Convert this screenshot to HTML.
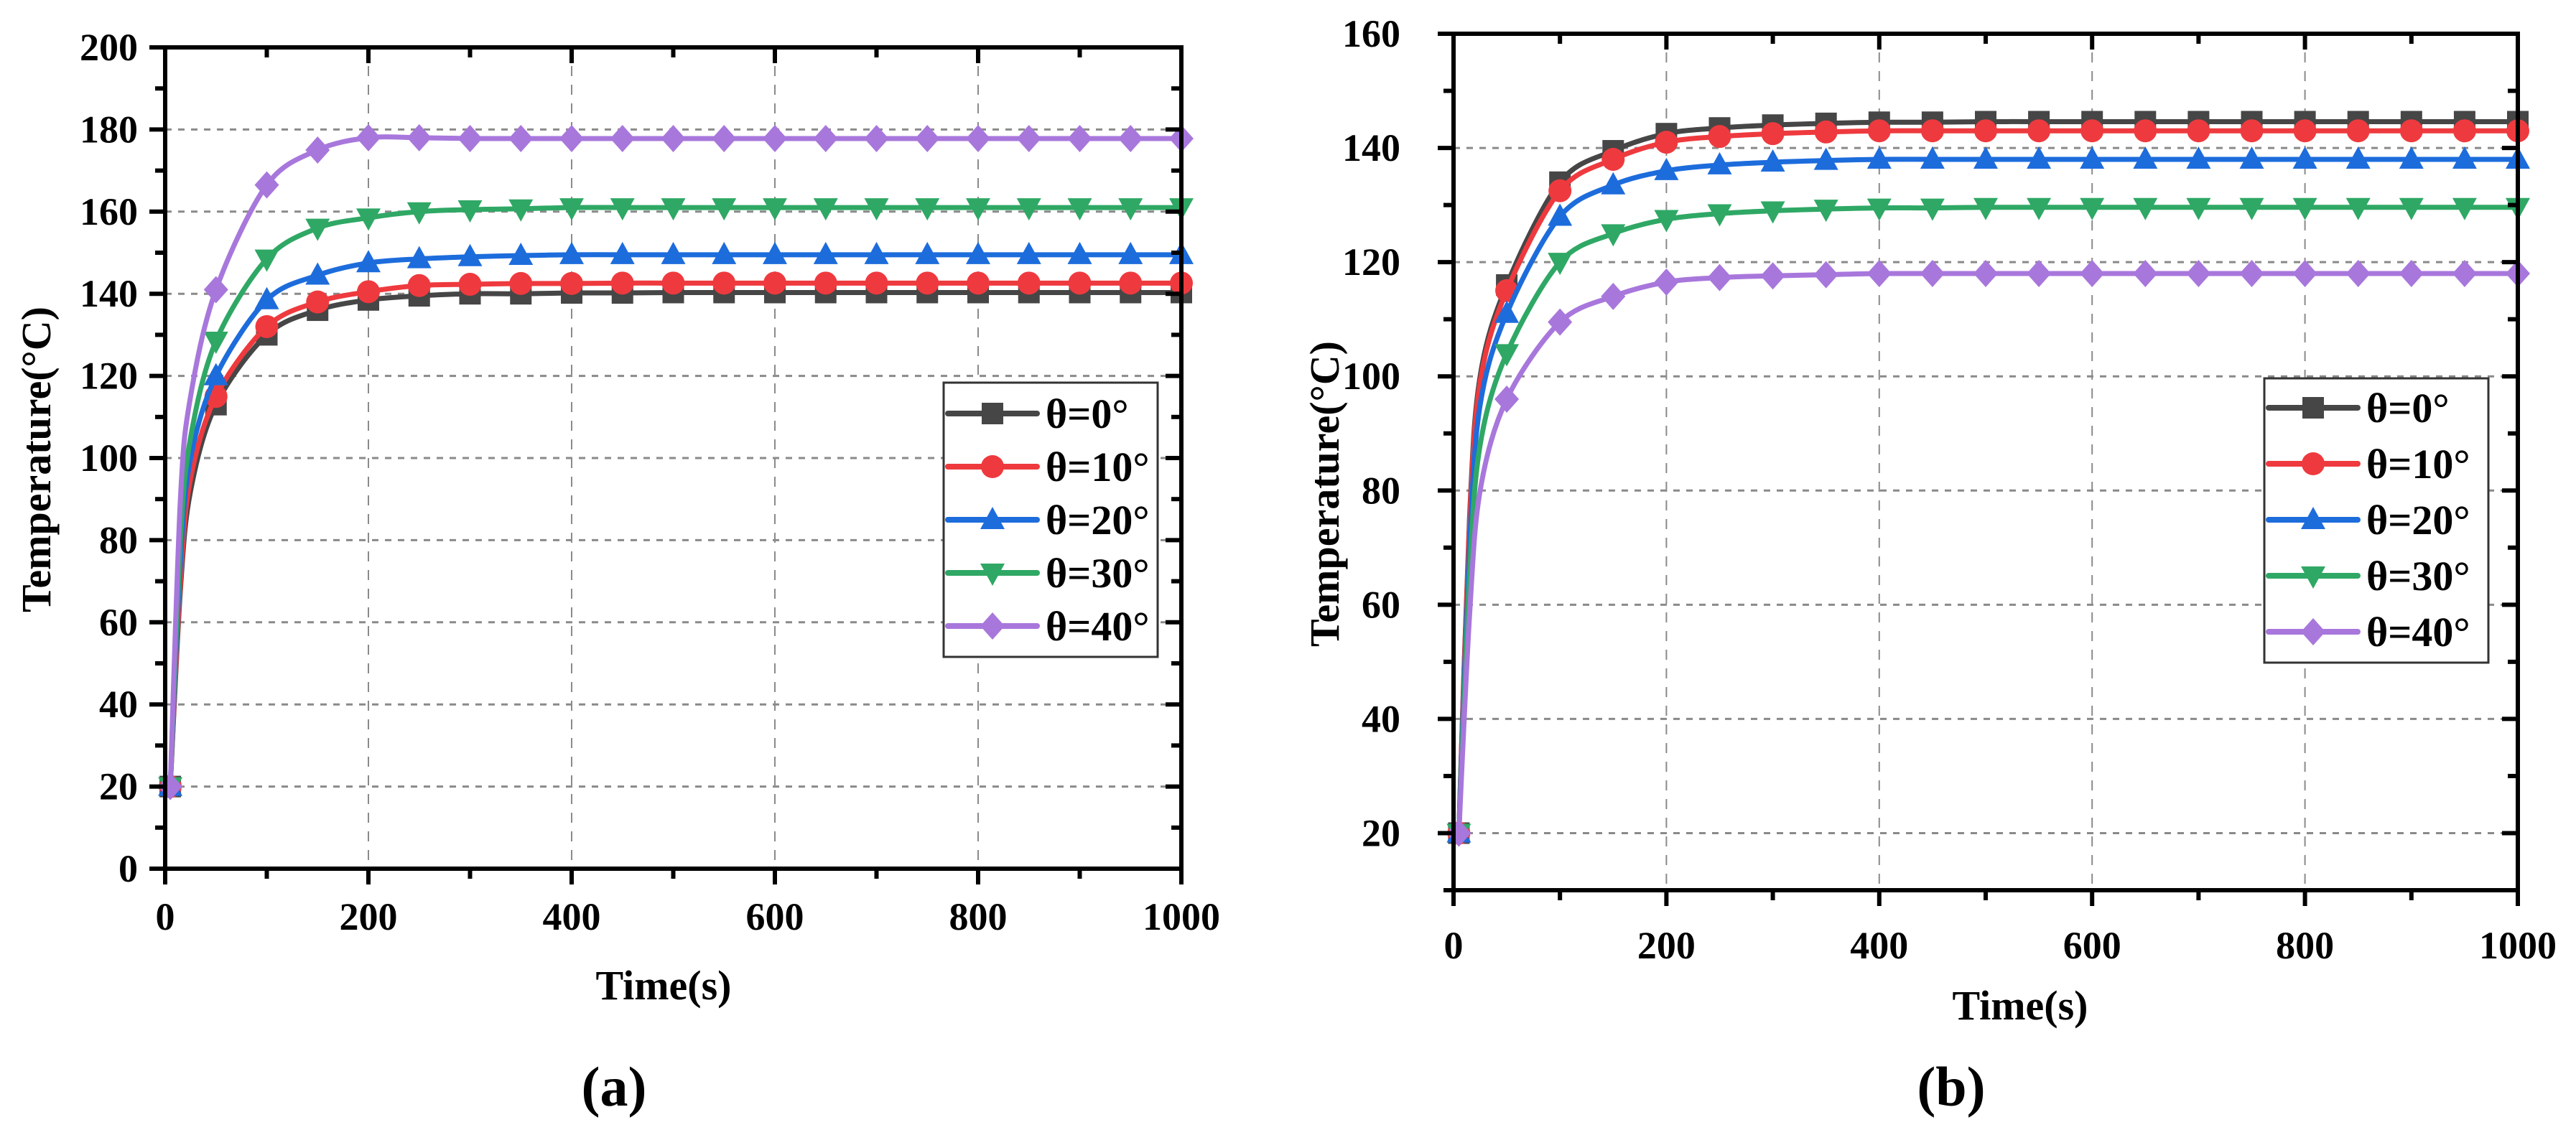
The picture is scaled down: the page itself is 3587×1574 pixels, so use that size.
<!DOCTYPE html>
<html><head><meta charset="utf-8"><style>
body{margin:0;background:#fff}
svg{display:block}
text{font-family:"Liberation Serif",serif;font-weight:bold;fill:#000}
</style></head><body>
<svg id="fig" width="3587" height="1574" viewBox="0 0 3587 1574" xmlns="http://www.w3.org/2000/svg"></svg>
<script>
// ---- data ----
const times = [5, 15, 25, 50, 100, 150, 200, 250, 300, 350, 400, 450, 500, 550, 600, 650, 700, 750, 800, 850, 900, 950, 1000];
const seriesNames = ["θ=0°", "θ=10°", "θ=20°", "θ=30°", "θ=40°"];
const aTheta0  = [20, 68, 92, 113, 130, 136, 138.5, 139.5, 140, 140, 140.2, 140.2, 140.3, 140.3, 140.3, 140.3, 140.3, 140.3, 140.3, 140.3, 140.3, 140.3, 140.3];
const aTheta10 = [20, 70, 95, 115, 132, 138, 140.5, 142, 142.3, 142.5, 142.5, 142.6, 142.6, 142.6, 142.6, 142.6, 142.6, 142.6, 142.6, 142.6, 142.6, 142.6, 142.6];
const aTheta20 = [20, 75, 100, 120, 138.5, 144.5, 147.5, 148.5, 149, 149.3, 149.5, 149.5, 149.5, 149.5, 149.5, 149.5, 149.5, 149.5, 149.5, 149.5, 149.5, 149.5, 149.5];
const aTheta30 = [20, 80, 105, 128.5, 148.5, 156, 158.5, 160, 160.5, 160.7, 161, 161, 161, 161, 161, 161, 161, 161, 161, 161, 161, 161, 161];
const aTheta40 = [20, 90, 115, 141, 166.5, 175, 178, 178, 177.8, 177.8, 177.8, 177.8, 177.8, 177.8, 177.8, 177.8, 177.8, 177.8, 177.8, 177.8, 177.8, 177.8, 177.8];
const bTheta0  = [20, 75, 100, 116, 134, 139.5, 142.5, 143.5, 144, 144.3, 144.5, 144.5, 144.6, 144.6, 144.6, 144.6, 144.6, 144.6, 144.6, 144.6, 144.6, 144.6, 144.6];
const bTheta10 = [20, 74, 99, 115, 132.5, 138, 141, 142, 142.5, 142.8, 143, 143, 143, 143, 143, 143, 143, 143, 143, 143, 143, 143, 143];
const bTheta20 = [20, 70, 95, 111, 128, 133.5, 136, 137, 137.5, 137.8, 138, 138, 138, 138, 138, 138, 138, 138, 138, 138, 138, 138, 138];
const bTheta30 = [20, 65, 88, 104, 120, 125, 127.5, 128.5, 129, 129.3, 129.5, 129.5, 129.6, 129.6, 129.6, 129.6, 129.6, 129.6, 129.6, 129.6, 129.6, 129.6, 129.6];
const bTheta40 = [20, 58, 80, 96, 109.5, 114, 116.5, 117.3, 117.6, 117.8, 118, 118, 118, 118, 118, 118, 118, 118, 118, 118, 118, 118, 118];
const xTicks = [0, 200, 400, 600, 800, 1000];
const aYTicks = [0, 20, 40, 60, 80, 100, 120, 140, 160, 180, 200];
const bYTicks = [20, 40, 60, 80, 100, 120, 140, 160];

const colors = ["#464646", "#ee3a3e", "#1d6cdc", "#2fa865", "#a877dc"];
const shapes = ["square", "circle", "up", "down", "diamond"];
const NS = "http://www.w3.org/2000/svg";
const svg = document.getElementById("fig");
function mk(tag, attrs, parent) {
  const e = document.createElementNS(NS, tag);
  for (const k in attrs) e.setAttribute(k, attrs[k]);
  (parent || svg).appendChild(e);
  return e;
}
function marker(g, shape, cx, cy, color) {
  const r = 15;
  let e;
  if (shape === "square") e = mk("rect", {x: cx - r, y: cy - r, width: 2 * r, height: 2 * r, fill: color}, g);
  else if (shape === "circle") e = mk("circle", {cx: cx, cy: cy, r: r + 1, fill: color}, g);
  else if (shape === "up") e = mk("polygon", {points: `${cx},${cy - r - 3} ${cx - r - 2},${cy + r - 2} ${cx + r + 2},${cy + r - 2}`, fill: color}, g);
  else if (shape === "down") e = mk("polygon", {points: `${cx},${cy + r + 3} ${cx - r - 2},${cy - r + 2} ${cx + r + 2},${cy - r + 2}`, fill: color}, g);
  else e = mk("polygon", {points: `${cx},${cy - r - 4} ${cx + r + 2},${cy} ${cx},${cy + r + 4} ${cx - r - 2},${cy}`, fill: color}, g);
  
  
  return e;
}
function smoothPath(pts) {
  let d = `M${pts[0][0]},${pts[0][1]}`;
  for (let i = 0; i < pts.length - 1; i++) {
    const p0 = pts[Math.max(0, i - 1)], p1 = pts[i], p2 = pts[i + 1], p3 = pts[Math.min(pts.length - 1, i + 2)];
    const t = 0.16;
    const c1 = [p1[0] + (p2[0] - p0[0]) * t, p1[1] + (p2[1] - p0[1]) * t];
    const c2 = [p2[0] - (p3[0] - p1[0]) * t, p2[1] - (p3[1] - p1[1]) * t];
    d += ` C${c1[0]},${c1[1]} ${c2[0]},${c2[1]} ${p2[0]},${p2[1]}`;
  }
  return d;
}

function chart(cfg) {
  const g = mk("g", {});
  
  
  const X = v => cfg.x0 + (v - 0) / 1000 * (cfg.x1 - cfg.x0);
  const Y = v => cfg.yb - (v - cfg.ymin) / (cfg.ymax - cfg.ymin) * (cfg.yb - cfg.yt);
  const L = cfg.x0, R = cfg.x1, T = cfg.yt, B = cfg.yb;
  const grid = mk("g", {stroke: "#8a8a8a", "stroke-width": 3}, g);
  
  
  xTicks.forEach(v => { if (v > 0 && v < 1000) mk("line", {x1: X(v), x2: X(v), y1: T, y2: B, "stroke-dasharray": "14,12", "stroke-width": 2}, grid); });
  cfg.yTicks.forEach(v => { if (Y(v) > T + 2 && Y(v) < B - 2) mk("line", {x1: L, x2: R, y1: Y(v), y2: Y(v), "stroke-dasharray": "9,9"}, grid); });
  cfg.series.forEach((vals, si) => {
    const sg = mk("g", {}, g);
    
    
    const pts = times.map((t, i) => [X(t), Y(vals[i])]);
    const p = mk("path", {d: smoothPath(pts), fill: "none", stroke: colors[si], "stroke-width": 7, "stroke-linejoin": "round"}, sg);
    
    
    times.forEach((t, i) => { if (t !== 15 && t !== 25) marker(sg, shapes[si], X(t), Y(vals[i]), colors[si]); });
  });
  const ax = mk("g", {stroke: "#000", "stroke-width": 6, fill: "none"}, g);
  
  
  mk("rect", {x: L, y: T, width: R - L, height: B - T}, ax);
  for (let v = 0; v <= 1000; v += 100) {
    const len = v % 200 === 0 ? 22 : 14;
    mk("line", {x1: X(v), x2: X(v), y1: B, y2: B + len}, ax);
    mk("line", {x1: X(v), x2: X(v), y1: T, y2: T + len}, ax);
  }
  for (let v = cfg.ymin; v <= cfg.ymax; v += 10) {
    const len = cfg.yTicks.includes(v) ? 22 : 14;
    mk("line", {x1: L, x2: L - len, y1: Y(v), y2: Y(v)}, ax);
    mk("line", {x1: R, x2: R - len, y1: Y(v), y2: Y(v)}, ax);
  }
  xTicks.forEach(v => {
    const t = mk("text", {x: X(v), y: cfg.xLabY, "font-size": 54, "text-anchor": "middle"}, g);
    t.textContent = v;
    
    
  });
  cfg.yTicks.forEach(v => {
    const t = mk("text", {x: cfg.yLabX, y: Y(v) + 18, "font-size": 54, "text-anchor": "end"}, g);
    t.textContent = v;
    
    
  });
  const xt = mk("text", {x: cfg.xTitle[0], y: cfg.xTitle[1], "font-size": 58, "text-anchor": "middle"}, g);
  xt.textContent = "Time(s)";
  
  
  const yt = mk("text", {x: 0, y: 0, "font-size": 58, "text-anchor": "middle", transform: `translate(${cfg.yTitle[0]},${cfg.yTitle[1]}) rotate(-90)`}, g);
  yt.textContent = "Temperature(°C)";
  
  
  const cap = mk("text", {x: cfg.cap[0], y: cfg.cap[1], "font-size": 78, "text-anchor": "middle", "font-weight": "normal"}, g);
  cap.textContent = cfg.capText;
  
  
  const lg = mk("g", {}, g);
  
  
  const lb = cfg.legend;
  mk("rect", {x: lb.x, y: lb.y, width: lb.w, height: lb.h, fill: "#fff", stroke: "#333", "stroke-width": 3}, lg);
  seriesNames.forEach((n, i) => {
    const cy = lb.y + lb.first + i * lb.step;
    const eg = mk("g", {}, lg);
    
    
    mk("line", {x1: lb.x + 6, x2: lb.x + 130, y1: cy, y2: cy, stroke: colors[i], "stroke-width": 8, "stroke-linecap": "round"}, eg);
    marker(eg, shapes[i], lb.x + 68, cy, colors[i]);
    const t = mk("text", {x: lb.x + 142, y: cy + 20, "font-size": 58}, eg);
    t.textContent = n;
  });
}

chart({name: "chart-a", x0: 230, x1: 1645, yt: 66, yb: 1210, ymin: 0, ymax: 200, yTicks: aYTicks,
  series: [aTheta0, aTheta10, aTheta20, aTheta30, aTheta40],
  xLabY: 1295, yLabX: 192, xTitle: [924, 1392], yTitle: [70, 640], cap: [855, 1540], capText: "(a)",
  legend: {x: 1314, y: 533, w: 298, h: 382, first: 43, step: 74}});
chart({name: "chart-b", x0: 2024, x1: 3506, yt: 47, yb: 1240, ymin: 10, ymax: 160, yTicks: bYTicks,
  series: [bTheta0, bTheta10, bTheta20, bTheta30, bTheta40],
  xLabY: 1335, yLabX: 1950, xTitle: [2813, 1420], yTitle: [1864, 688], cap: [2717, 1540], capText: "(b)",
  legend: {x: 3153, y: 527, w: 312, h: 396, first: 41, step: 78}});
</script>
</body></html>
